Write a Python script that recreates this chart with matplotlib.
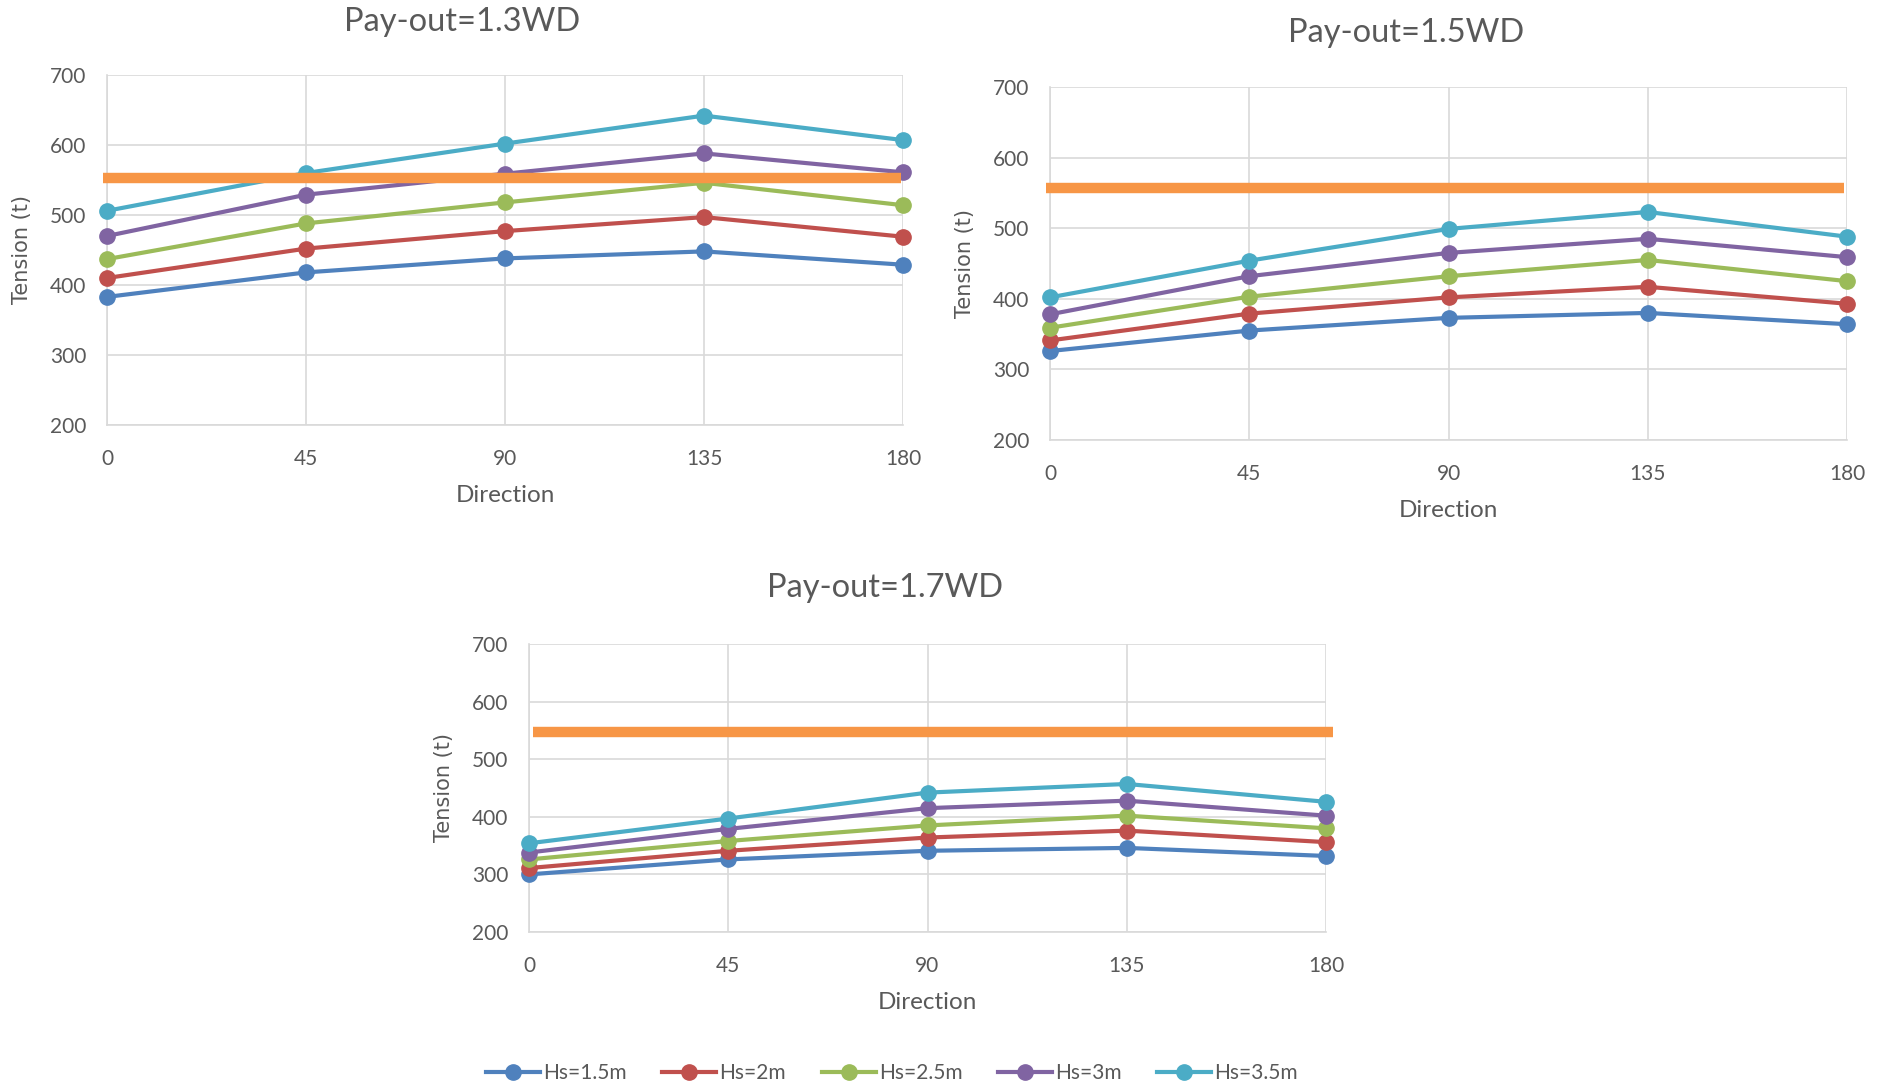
import matplotlib
matplotlib.use("Agg")
import matplotlib.pyplot as plt
from matplotlib.lines import Line2D

plt.rcParams["font.family"] = ["Lato", "DejaVu Sans"]

directions = [0, 45, 90, 135, 180]
series_names = ["Hs=1.5m", "Hs=2m", "Hs=2.5m", "Hs=3m", "Hs=3.5m"]
colors = ["#4F81BD", "#C0504D", "#9BBB59", "#8064A2", "#4BACC6"]
limit_color = "#F79646"

titles = ["Pay-out=1.3WD", "Pay-out=1.5WD", "Pay-out=1.7WD"]

tension_13 = [
    [383, 418, 438, 448, 429],
    [410, 452, 477, 497, 469],
    [437, 488, 518, 546, 514],
    [470, 529, 559, 588, 561],
    [506, 560, 602, 642, 607],
]
tension_15 = [
    [326, 355, 373, 380, 364],
    [341, 379, 402, 417, 393],
    [359, 403, 432, 455, 425],
    [378, 432, 465, 485, 459],
    [402, 454, 499, 523, 488],
]
tension_17 = [
    [300, 326, 341, 346, 332],
    [311, 341, 364, 376, 356],
    [326, 358, 385, 402, 380],
    [338, 379, 415, 428, 402],
    [354, 397, 442, 457, 426],
]
limit_values = [553, 557, 548]
limit_x = [[-1, 179.5], [-1, 179.3], [0.8, 181.5]]

W, H = 1878, 1085
fig = plt.figure(figsize=(W / 100, H / 100), dpi=100)

# axes boxes in pixels: left, top, right, bottom
boxes = [(107, 75, 903, 425), (1050, 87, 1847, 440), (529, 644, 1326, 932)]
title_pos = [(462, 22), (1406, 33), (885, 588)]
datasets = [tension_13, tension_15, tension_17]

grey = "#595959"
for k, (l, t, r, b) in enumerate(boxes):
    ax = fig.add_axes([l / W, 1 - b / H, (r - l) / W, (b - t) / H])
    for vals, c in zip(datasets[k], colors):
        ax.plot(directions, vals, color=c, lw=3, marker="o", ms=11,
                zorder=3, clip_on=False)
    ax.plot(limit_x[k], [limit_values[k]] * 2, color=limit_color, lw=7.5,
            solid_capstyle="butt", zorder=4, clip_on=False)
    ax.set_xlim(0, 180)
    ax.set_ylim(200, 700)
    ax.set_xticks(directions)
    ax.set_yticks(range(200, 701, 100))
    ax.grid(True, color="#d9d9d9", lw=1.2)
    ax.set_axisbelow(True)
    for s in ["top", "right"]:
        ax.spines[s].set_visible(False)
    for s in ["left", "bottom"]:
        ax.spines[s].set_color("#d9d9d9")
        ax.spines[s].set_linewidth(1.2)
    ax.tick_params(length=0, labelsize=15, colors=grey)
    ax.tick_params(axis="x", pad=17)
    ax.tick_params(axis="y", pad=15)
    ax.set_xlabel("Direction", fontsize=17.5, color=grey, labelpad=12)
    ax.set_ylabel("Tension (t)", fontsize=15, color=grey, labelpad=13,
                  family=["DejaVu Sans"])
    fig.text(title_pos[k][0] / W, 1 - title_pos[k][1] / H, titles[k],
             fontsize=23.5, color=grey, ha="center", va="center")

handles = [Line2D([], [], color=c, lw=3, marker="o", ms=11) for c in colors]
fig.legend(handles, series_names, loc="center", ncol=5,
           bbox_to_anchor=(892 / W, 1 - 1073 / H), frameon=False,
           fontsize=15, labelcolor=grey, handlelength=2.6, columnspacing=1.7,
           handletextpad=0.15)

fig.savefig("out.png", dpi=100)
